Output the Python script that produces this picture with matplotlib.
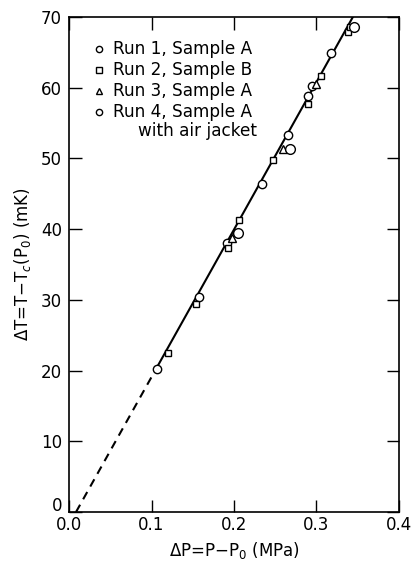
import numpy as np
import matplotlib
matplotlib.use("Agg")
import matplotlib.pyplot as plt
import matplotlib.transforms as mtransforms

# data: pressure shift (MPa) and temperature shift (mK)
run1_p = [0.107, 0.157, 0.191, 0.2335, 0.265, 0.290, 0.295, 0.318]
run1_t = [20.2, 30.4, 38.1, 46.4, 53.3, 58.9, 60.2, 64.9]
run2_p = [0.1196, 0.154, 0.193, 0.206, 0.247, 0.290, 0.306, 0.338, 0.3406]
run2_t = [22.5, 29.4, 37.3, 41.3, 49.8, 57.7, 61.7, 67.9, 68.6]
run3_p = [0.198, 0.260, 0.300]
run3_t = [38.8, 51.4, 60.6]
run4_p = [0.2045, 0.268, 0.345]
run4_t = [39.4, 51.4, 68.6]

# fitted straight line: dT = slope * (dP - p_zero)
slope = 208.6
p_zero = 0.0085
p_dash_end = 0.107

x_ticks = [0.0, 0.1, 0.2, 0.3, 0.4]
y_ticks = [0, 10, 20, 30, 40, 50, 60, 70]

legend_labels = ['Run 1, Sample A', 'Run 2, Sample B', 'Run 3, Sample A', 'Run 4, Sample A']
legend_markers = ['o', 's', '^', 'o']

plt.rcParams['font.family'] = 'DejaVu Sans'
fig = plt.figure(figsize=(4.14, 5.65), dpi=100)
ax = fig.add_axes([0.1667, 0.0938, 0.797, 0.876])

# fit line, dashed where it is extrapolated
p_dash = np.array([p_zero, p_dash_end])
p_solid = np.array([p_dash_end, p_zero + 70 / slope])
ax.plot(p_dash, slope * (p_dash - p_zero), color='black', lw=1.5, ls=(0, (4, 3)))
ax.plot(p_solid, slope * (p_solid - p_zero), color='black', lw=1.5)

mk = dict(ls='none', mfc='white', mec='black', mew=1.0, zorder=3)
ax.plot(run1_p, run1_t, marker='o', ms=6, **mk)
ax.plot(run2_p, run2_t, marker='s', ms=5, **mk)
ax.plot(run3_p, run3_t, marker='^', ms=5.5, **mk)
ax.plot(run4_p, run4_t, marker='o', ms=7, **mk)

# hand-made legend (the last entry has a second, indented line)
for i, (lab, m) in enumerate(zip(legend_labels, legend_markers)):
    yy = 0.935 - i * 0.042
    ax.plot([0.091], [yy], marker=m, ms=4.5 if m != 's' else 4,
            transform=ax.transAxes, clip_on=False, **mk)
    ax.text(0.133, yy, lab, transform=ax.transAxes, fontsize=12.2,
            va='center', ha='left')
ax.text(0.209, 0.935 - 4 * 0.042 + 0.002, 'with air jacket', transform=ax.transAxes,
        fontsize=12.2, va='center', ha='left')

ax.set_xlim(0, 0.4)
ax.set_ylim(0, 70)
ax.set_xticks(x_ticks)
ax.set_yticks(y_ticks)
ax.set_xticklabels(['%.1f' % v for v in x_ticks])
ax.tick_params(direction='in', length=9, width=1, top=True, right=True,
               labelsize=12)
ax.tick_params(axis='x', pad=3)
ax.tick_params(axis='y', pad=5)
for s in ax.spines.values():
    s.set_linewidth(1.2)

# lift the y "0" a little so it clears the x "0.0"
lbl0 = ax.get_yticklabels()[0]
lbl0.set_transform(lbl0.get_transform() +
                   mtransforms.ScaledTranslation(0, 6 / 72, fig.dpi_scale_trans))

ax.set_xlabel(r'$\Delta$P=P$-$P$_0$ (MPa)', fontsize=12, labelpad=4)
ax.set_ylabel(r'$\Delta$T=T$-$T$_c$(P$_0$) (mK)', fontsize=12, labelpad=6)

fig.savefig('out.png', dpi=100)
